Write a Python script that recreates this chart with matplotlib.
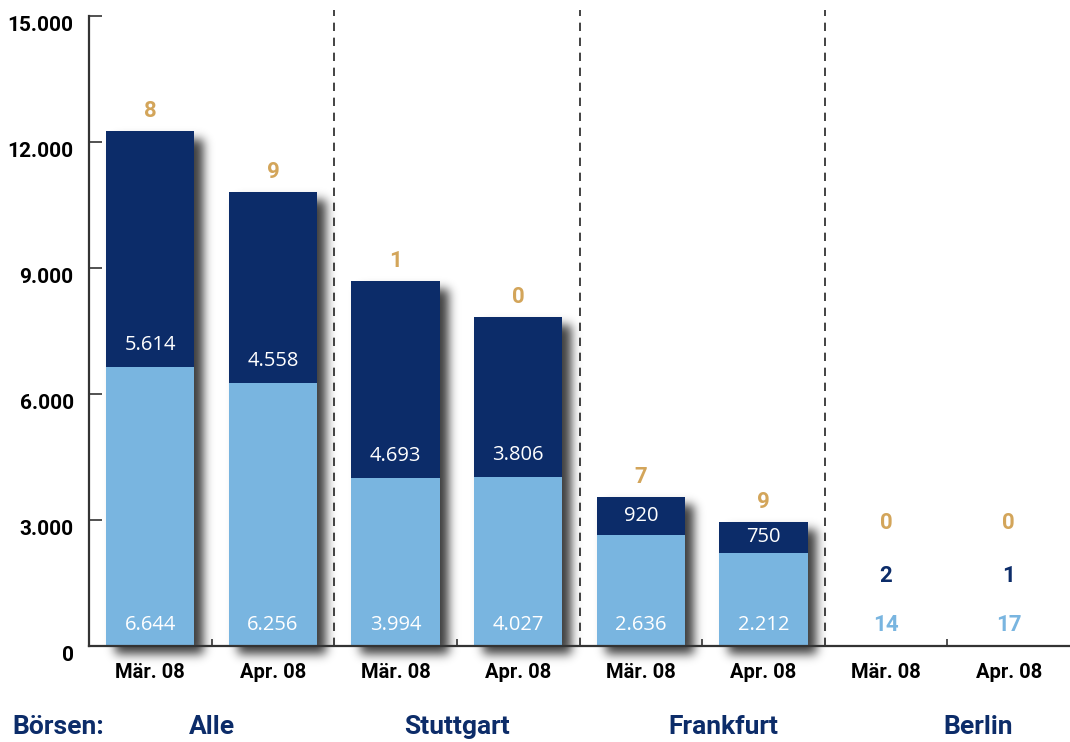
import matplotlib.pyplot as plt
import matplotlib.transforms as mtransforms
import numpy as np
from math import erf

# data
months = ["Mär. 08", "Apr. 08"] * 4
groups = ["Alle", "Stuttgart", "Frankfurt", "Berlin"]
light_vals = [6644, 6256, 3994, 4027, 2636, 2212, 14, 17]
dark_vals = [5614, 4558, 4693, 3806, 920, 750, 2, 1]
gold_vals = [8, 9, 1, 0, 7, 9, 0, 0]
yticks = [0, 3000, 6000, 9000, 12000, 15000]

NAVY = "#0C2C69"
LIGHT = "#79B5E0"
GOLD = "#D3A55A"

plt.rcParams['font.family'] = ['Roboto', 'DejaVu Sans']

def de_fmt(v):
    return f"{v:,}".replace(",", ".")

W, H = 1070, 742
fig = plt.figure(figsize=(W / 100, H / 100), dpi=100)
ax = fig.add_axes([89 / W, (H - 646) / H, (W - 89) / W, 630 / H])

x = np.arange(len(months))
ax.set_xlim(-0.5, len(months) - 0.5)
ax.set_ylim(0, 15000)
ax.set_autoscale_on(False)

bw = 0.72
ax.bar(x, light_vals, bw, color=LIGHT, zorder=3)
ax.bar(x, dark_vals, bw, bottom=light_vals, color=NAVY, zorder=3)

# soft drop shadow, computed in pixel space
verf = np.vectorize(erf)
px = np.arange(W) + 0.5
py = np.arange(H) + 0.5
dx, dy, sig, amax = 9, -8, 5.0, 0.76
keep = np.ones((H, W))
for i in x:
    top = light_vals[i] + dark_vals[i]
    (x0, y0), (x1, y1) = ax.transData.transform([(i - bw / 2, 0), (i + bw / 2, top)])
    if y1 - y0 < 3:
        continue
    fx = 0.5 * (verf((px - x0 - dx) / (sig * np.sqrt(2))) - verf((px - x1 - dx) / (sig * np.sqrt(2))))
    fy = 0.5 * (verf((py - y0 - dy) / (sig * np.sqrt(2))) - verf((py - y1 - dy) / (sig * np.sqrt(2))))
    keep *= 1 - amax * np.outer(fy, fx)
shadow = np.zeros((H, W, 4))
shadow[..., 3] = 1 - keep
ax.imshow(shadow, extent=(0, W, 0, H), origin="lower", transform=mtransforms.IdentityTransform(),
          zorder=2, clip_on=False, aspect="auto", interpolation="nearest")

# separators between exchanges
for b in [1.5, 3.5, 5.5]:
    ax.axvline(b, ymin=0, ymax=1.01, color="#222222", lw=1.2, ls=(0, (5, 4)), zorder=1, clip_on=False)

# value labels
for i in x:
    light, dark, gold = light_vals[i], dark_vals[i], gold_vals[i]
    y0 = ax.transData.transform((i, 0))[1]
    yb = ax.transData.transform((i, light))[1]
    yt = ax.transData.transform((i, light + dark))[1]
    tiny = (yt - y0) < 20
    if tiny:
        p_light, p_dark, p_gold = 21, 70, 123
        c_light, c_dark = LIGHT, NAVY
        fw, ff, fs = "bold", ['Roboto', 'DejaVu Sans'], 16
    else:
        p_light = 21
        p_dark = (yb - y0) + min(22, (yt - yb) / 2)
        p_gold = (yt - y0) + 20
        c_light, c_dark = "white", "white"
        fw, ff, fs = "normal", ['Open Sans', 'DejaVu Sans'], 14.5
    kw = dict(textcoords="offset pixels", ha="center", va="center", zorder=5)
    ax.annotate(de_fmt(light), (i, 0), xytext=(0, p_light), color=c_light,
                fontsize=fs, fontweight=fw, family=ff, **kw)
    ax.annotate(de_fmt(dark), (i, 0), xytext=(0, p_dark), color=c_dark,
                fontsize=fs, fontweight=fw, family=ff, **kw)
    ax.annotate(de_fmt(gold), (i, 0), xytext=(0, p_gold), color=GOLD,
                fontsize=16, fontweight="bold", **kw)

# axes styling
for s in ["top", "right"]:
    ax.spines[s].set_visible(False)
for s in ["left", "bottom"]:
    ax.spines[s].set_color("#333333")
    ax.spines[s].set_linewidth(1.6)
    ax.spines[s].set_zorder(4)

ax.set_yticks(yticks)
ax.set_yticklabels([de_fmt(v) for v in yticks], fontsize=15, fontweight="bold")
shift = mtransforms.ScaledTranslation(0, -3 / 72, fig.dpi_scale_trans)
for lab in ax.get_yticklabels():
    lab.set_verticalalignment("top")
    lab.set_transform(lab.get_transform() + shift)
ax.tick_params(axis="y", direction="in", length=9, width=1.2, color="#333333", pad=11)

ax.set_xticks(x)
ax.set_xticklabels(months, fontsize=14.5, fontweight="bold")
ax.tick_params(axis="x", which="major", length=0, pad=12)
ax.set_xticks(np.arange(0.5, len(months) - 1, 2), minor=True)
ax.tick_params(axis="x", which="minor", direction="in", length=5, width=1.2, color="#333333")

# exchange labels
fig.text(12 / W, (H - 727) / H, "Börsen:", color=NAVY, fontsize=19, fontweight="bold",
         ha="left", va="center")
group_pos = [0.5, 2.5, 4.67, 6.75]
for g, gx in zip(groups, group_pos):
    gpx = ax.transData.transform((gx, 0))[0]
    fig.text(gpx / W, (H - 727) / H, g, color=NAVY, fontsize=19, fontweight="bold",
             ha="center", va="center")

fig.savefig("out.png", dpi=100)
